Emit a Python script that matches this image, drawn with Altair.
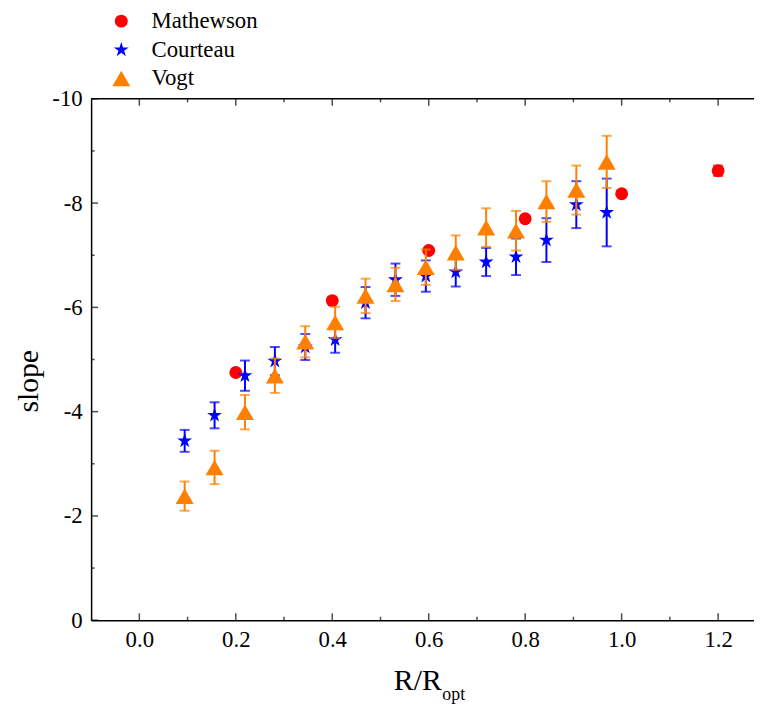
import altair as alt
import pandas as pd

FONT = "Liberation Serif"

series_names = ["Mathewson", "Courteau", "Vogt"]
series_colors = ["#FF0000", "#0000FF", "#FF8000"]
star_path = ("M0,-1L0.2245,-0.309L0.951,-0.309L0.363,0.118L0.588,0.809L0,0.382"
             "L-0.588,0.809L-0.363,0.118L-0.951,-0.309L-0.2245,-0.309Z")
series_shapes = ["circle", star_path, "triangle-up"]
series_sizes = [169, 330, 225]

# Mathewson
math_x = [0.2, 0.4, 0.6, 0.8, 1.0, 1.2]
math_y = [-4.75, -6.13, -7.09, -7.70, -8.18, -8.62]
math_err = [0.05, 0.05, 0.05, 0.05, 0.05, 0.10]

# Courteau
cour_x = [0.094, 0.156, 0.219, 0.281, 0.344, 0.406, 0.469, 0.531,
          0.594, 0.656, 0.719, 0.781, 0.844, 0.906, 0.969]
cour_y = [-3.44, -3.93, -4.69, -4.97, -5.24, -5.38, -6.09, -6.53,
          -6.60, -6.68, -6.87, -6.97, -7.29, -7.97, -7.82]
cour_err = [0.21, 0.25, 0.29, 0.27, 0.25, 0.25, 0.30, 0.31,
            0.30, 0.28, 0.27, 0.35, 0.42, 0.45, 0.65]

# Vogt
vogt_x = [0.094, 0.156, 0.219, 0.281, 0.344, 0.406, 0.469, 0.531,
          0.594, 0.656, 0.719, 0.781, 0.844, 0.906, 0.969]
vogt_y = [-2.38, -2.93, -3.99, -4.69, -5.34, -5.71, -6.22, -6.44,
          -6.77, -7.05, -7.53, -7.47, -8.03, -8.25, -8.79]
vogt_err = [0.28, 0.32, 0.33, 0.33, 0.30, 0.30, 0.33, 0.32,
            0.34, 0.33, 0.37, 0.38, 0.39, 0.47, 0.50]

x_major = [0.0, 0.2, 0.4, 0.6, 0.8, 1.0, 1.2]
x_minor = [0.1, 0.3, 0.5, 0.7, 0.9, 1.1]
y_major = [-10, -8, -6, -4, -2, 0]
y_minor = [-9, -7, -5, -3, -1]

W, H = 670, 527
X_DOMAIN = [-0.1, 1.2744]
Y_DOMAIN = [0, -10]

xscale = alt.Scale(domain=X_DOMAIN, nice=False, zero=False)
yscale = alt.Scale(domain=Y_DOMAIN, nice=False, zero=False)

x_axis = alt.Axis(values=x_major, format=".1f", ticks=False, grid=False,
                  labelFont=FONT, labelFontSize=23, labelColor="black",
                  labelPadding=9, domainColor="black", domainWidth=1.5,
                  labelFlush=False)
y_axis = alt.Axis(values=y_major, labelExpr="'' + datum.value", ticks=False,
                  grid=False, labelFont=FONT, labelFontSize=23,
                  labelColor="black", labelPadding=9, domainColor="black",
                  domainWidth=1.5, title="slope", titleFont=FONT,
                  titleFontSize=30, titleFontWeight="normal",
                  titleColor="black", titleAngle=-90, titleX=-54, titleY=285,
                  titleAlign="center", titleBaseline="alphabetic",
                  labelFlush=False)


def xenc(field):
    return alt.X(field, type="quantitative", scale=xscale, axis=x_axis, title=None)


def yenc(field):
    return alt.Y(field, type="quantitative", scale=yscale, axis=y_axis, title="slope")


color_scale = alt.Scale(domain=series_names, range=series_colors)
shape_scale = alt.Scale(domain=series_names, range=series_shapes)
size_scale = alt.Scale(domain=series_names, range=series_sizes)

legend = alt.Legend(title=None, orient="none", legendX=19, legendY=-90,
                    labelFont=FONT, labelFontSize=23, labelColor="black",
                    labelOffset=19, rowPadding=5, padding=0,
                    symbolStrokeWidth=0, symbolOpacity=1)

all_data = [
    (math_x, math_y, math_err),
    (cour_x, cour_y, cour_err),
    (vogt_x, vogt_y, vogt_err),
]

layers = []

# frame ticks and top border
layers.append(
    alt.Chart(pd.DataFrame({"t": x_major})).mark_tick(
        orient="vertical", size=7, thickness=1.5, color="black"
    ).encode(x=xenc("t"), y=alt.value(H - 3.5))
)
layers.append(
    alt.Chart(pd.DataFrame({"t": x_minor})).mark_tick(
        orient="vertical", size=3.5, thickness=1.5, color="black"
    ).encode(x=xenc("t"), y=alt.value(H - 1.75))
)
layers.append(
    alt.Chart(pd.DataFrame({"t": x_major})).mark_tick(
        orient="vertical", size=7, thickness=1.5, color="black"
    ).encode(x=xenc("t"), y=alt.value(3.5))
)
layers.append(
    alt.Chart(pd.DataFrame({"t": x_minor})).mark_tick(
        orient="vertical", size=3.5, thickness=1.5, color="black"
    ).encode(x=xenc("t"), y=alt.value(1.75))
)
layers.append(
    alt.Chart(pd.DataFrame({"t": y_major})).mark_tick(
        orient="horizontal", size=7, thickness=1.5, color="black"
    ).encode(y=yenc("t"), x=alt.value(3.5))
)
layers.append(
    alt.Chart(pd.DataFrame({"t": y_minor})).mark_tick(
        orient="horizontal", size=3.5, thickness=1.5, color="black"
    ).encode(y=yenc("t"), x=alt.value(1.75))
)
layers.append(
    alt.Chart(pd.DataFrame({"a": [0]})).mark_rule(color="black", strokeWidth=1.5)
    .encode(x=alt.value(0), x2=alt.value(W), y=alt.value(0))
)

for name, color, (xs, ys, es) in zip(series_names, series_colors, all_data):
    df = pd.DataFrame({"x": xs, "y": ys, "err": es})
    df["lo"] = df["y"] - df["err"]
    df["hi"] = df["y"] + df["err"]
    df["series"] = name
    base = alt.Chart(df)
    layers.append(
        base.mark_rule(color=color, strokeWidth=2).encode(
            x=xenc("x"), y=yenc("lo"), y2="hi"
        )
    )
    layers.append(
        base.mark_tick(orient="horizontal", size=10, thickness=2, color=color)
        .encode(x=xenc("x"), y=yenc("lo"))
    )
    layers.append(
        base.mark_tick(orient="horizontal", size=10, thickness=2, color=color)
        .encode(x=xenc("x"), y=yenc("hi"))
    )
    layers.append(
        base.mark_point(filled=True, opacity=1, strokeWidth=0).encode(
            x=xenc("x"),
            y=yenc("y"),
            color=alt.Color("series:N", scale=color_scale, legend=legend),
            shape=alt.Shape("series:N", scale=shape_scale, legend=legend),
            size=alt.Size("series:N", scale=size_scale, legend=legend),
        )
    )

# x-axis title with subscript
layers.append(
    alt.Chart(pd.DataFrame({"t": ["R/R"]})).mark_text(
        font=FONT, fontSize=30, color="black", align="left", baseline="alphabetic"
    ).encode(text="t:N", x=alt.value(306), y=alt.value(598))
)
layers.append(
    alt.Chart(pd.DataFrame({"t": ["opt"]})).mark_text(
        font=FONT, fontSize=18, color="black", align="left", baseline="alphabetic"
    ).encode(text="t:N", x=alt.value(355), y=alt.value(608))
)

chart = alt.layer(*layers).properties(
    width=W, height=H,
    autosize=alt.AutoSizeParams(type="none"),
    padding={"left": 84, "top": 88, "right": 0, "bottom": 90},
).configure(
    background="white", font=FONT
).configure_view(
    stroke=None
).configure_axis(
    labelFont=FONT, titleFont=FONT
).configure_legend(
    labelFont=FONT
).configure_text(font=FONT)

chart.save("out.html", embed_options={"renderer": "svg", "actions": False})
